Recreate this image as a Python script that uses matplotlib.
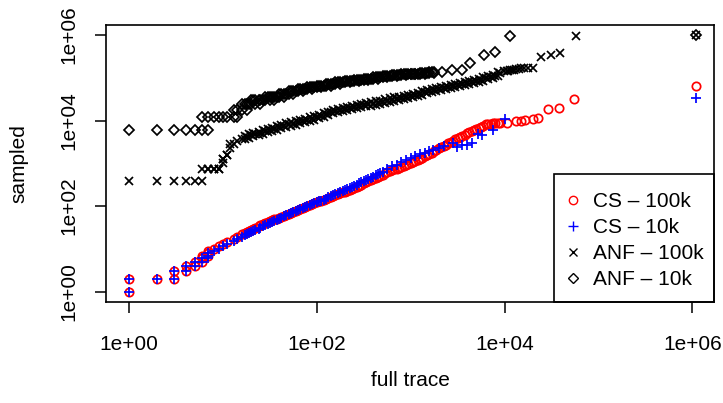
import matplotlib
matplotlib.use('Agg')
import matplotlib.pyplot as plt
from matplotlib.ticker import FixedLocator, NullLocator
from matplotlib.lines import Line2D
from matplotlib.patches import Rectangle

plt.rcParams['font.family'] = ['Liberation Sans', 'DejaVu Sans']

# ---------------- data ----------------
tick_values = [1, 1e2, 1e4, 1e6]
tick_labels = ['1e+00', '1e+02', '1e+04', '1e+06']
series_labels = ['CS \u2013 100k', 'CS \u2013 10k', 'ANF \u2013 100k', 'ANF \u2013 10k']

# shared "full trace" sizes for the dense part of the curves
x_dense = [7, 8, 9, 10, 11, 13, 14, 16, 18, 20, 22, 25, 28, 32, 35, 40, 45, 50, 56, 63,
           71, 79, 89, 100, 112, 126, 141, 158, 178, 200, 224, 251, 282, 316, 355, 398,
           447, 501, 562, 631, 708, 794, 891, 1000, 1120, 1260, 1410, 1580, 1780, 2000,
           2240, 2510, 2820, 3160, 3550, 3980, 4470, 5010, 5620, 6310, 7080, 7940, 8910]
x_mid = [17, 19, 21, 24, 27, 30, 33, 38, 42, 47, 53, 60, 67, 75, 84, 94, 106, 119, 133,
         150, 168, 188, 211, 237, 266, 299, 335, 376, 422, 473, 531, 596, 668, 750, 841,
         944, 1060, 1190, 1330, 1500, 1680, 1880, 2110, 2370, 2660, 2990, 3350, 3760,
         4220, 4730, 5310, 5960, 6680, 7500, 8410]

# CS - 100k
cs100_x_small = [1, 1, 2, 3, 3, 4, 4, 5, 5, 6, 6, 6, 7, 7]
cs100_y_small = [1, 2, 2, 2, 3, 3, 4, 4, 5, 5, 6, 7, 7, 8]
cs100_y_dense = [9.12, 10.2, 11.5, 13.2, 14.8, 17.0, 19.1, 21.9, 24.5, 28.2, 31.6, 36.3,
                 39.8, 44.7, 49.0, 53.7, 58.9, 66.1, 74.1, 81.3, 89.1, 100, 110, 123, 135,
                 151, 166, 182, 200, 219, 240, 269, 302, 339, 380, 427, 490, 550, 617, 692,
                 759, 832, 912, 1020, 1150, 1290, 1450, 1660, 1910, 2240, 2570, 2950, 3390,
                 3890, 4370, 5010, 5750, 6460, 7240, 8130, 8510, 8710, 8910]
cs100_y_mid = [23.2, 26.3, 29.9, 33.9, 38.0, 42.2, 46.8, 51.3, 56.2, 62.4, 70.0, 77.6,
               85.1, 94.4, 105, 116, 129, 143, 158, 174, 191, 209, 229, 254, 285, 320,
               359, 403, 457, 519, 583, 653, 725, 795, 871, 965, 1080, 1220, 1370, 1550,
               1780, 2070, 2400, 2750, 3160, 3630, 4120, 4680, 5370, 6090, 6840, 7670,
               8320, 8610, 8810]
cs100_x_tail = [10700, 13200, 14800, 16600, 20000, 22900, 28800, 38000, 55000, 1.1e6]
cs100_y_tail = [8910, 9550, 9770, 10200, 11000, 11700, 18600, 20000, 31600, 63100]

# CS - 10k
cs10_x_small = [1, 1, 2, 3, 3, 4, 4, 5, 5, 6, 6, 7, 7]
cs10_y_small = [1, 2, 2, 2, 3, 3, 4, 4, 5, 5, 6, 6, 7]
cs10_y_dense = [7.94, 9.12, 10.2, 11.7, 13.2, 15.1, 17.0, 19.5, 21.9, 25.1, 28.2, 31.6,
                35.5, 39.8, 44.7, 51.3, 57.5, 64.6, 72.4, 81.3, 89.1, 100, 110, 123, 135,
                151, 170, 191, 214, 240, 269, 302, 339, 380, 437, 490, 562, 631]
cs10_y_mid = [20.7, 23.4, 26.6, 29.9, 33.5, 37.6, 42.2, 47.9, 54.3, 60.9, 68.4, 76.7,
              85.1, 94.4, 105, 116, 129, 143, 160, 180, 202, 227, 254, 285, 320, 359,
              407, 463, 525, 596]
cs10_x_tail = [562, 631, 708, 794, 891, 1000, 1120, 1260, 1410, 1580, 1740, 2000, 2290,
               2820, 3090, 3550, 3980, 4470, 5250, 5750, 7590, 10000, 1.1e6]
cs10_y_tail = [759, 851, 933, 1050, 1200, 1320, 1480, 1620, 1780, 1950, 2040, 2290, 2570,
               2950, 2450, 2630, 2690, 2950, 4790, 4570, 6030, 11200, 33900]

# ANF - 100k
anf100_x_small = [1, 2, 3, 4, 5, 6, 6, 7, 8, 9, 10, 10, 11, 12, 12]
anf100_y_small = [380, 380, 380, 380, 380, 380, 735, 735, 735, 735, 1000, 1260, 1580,
                  2240, 2820]
anf100_y_dense = [735, 735, 735, 1260, 1580, 2820, 3310, 3800, 4170, 4570, 4900, 5250,
                  5620, 6030, 6460, 7080, 7590, 8130, 8510, 9120, 9770, 10500, 11200,
                  12000, 12900, 14100, 15500, 16600, 17800, 18600, 20000, 20900, 21900,
                  22900, 24000, 25100, 26300, 27500, 29500, 30900, 32400, 33900, 35500,
                  38000, 39800, 42700, 45700, 49000, 51300, 55000, 58900, 61700, 64600,
                  67600, 70800, 74100, 79400, 83200, 89100, 97700, 105000, 112000, 132000]
# upper and lower edge of the band at the in-between sizes
anf100_y_mid = [4360, 4790, 5190, 5560, 5950, 6380, 6840, 7410, 8030, 8610, 9120, 9660,
                10300, 11100, 11900, 12700, 13600, 14800, 16200, 17600, 18800, 19900,
                21100, 22400, 23500, 24500, 25700, 26900, 28200, 29500, 31200, 33100,
                34700, 36300, 38000, 40300, 42600, 45200, 48400, 51800, 54900, 58200,
                62400, 66100, 69200, 72400, 75800, 79400, 84100, 89100, 94400, 102000,
                111000, 119000, 134000]
anf100_y_mid_low = [3630, 3990, 4330, 4630, 4960, 5320, 5700, 6180, 6690, 7180, 7600,
                    8050, 8580, 9250, 9920, 10600, 11300, 12300, 13500, 14700, 15700,
                    16600, 17600, 18700, 19600, 20400, 21400, 22400, 23500, 24600, 26000,
                    27600, 28900, 30300, 31700, 33600, 35500, 37700, 40300, 43200, 45800,
                    48500, 52000, 55100, 57700, 60300, 63200, 66200, 70100, 74300, 78700,
                    85000, 92500, 99200, 112000]
anf100_x_tail = [9770, 10500, 11000, 11500, 12000, 12600, 13200, 14100, 15100, 16200,
                 17800, 20000, 24500, 30900, 38900, 57500, 1.1e6]
anf100_y_tail = [141000, 145000, 148000, 151000, 155000, 155000, 158000, 162000, 166000,
                 170000, 170000, 170000, 302000, 339000, 389000, 933000, 1e6]

# ANF - 10k (estimates come in steps)
anf10_x_small = [1, 2, 3, 4, 5, 6, 7, 6]
anf10_y_small = [6000, 6000, 6000, 6000, 6000, 6000, 6000, 12000]
anf10_y_dense = [12000, 12000, 12000, 12000, 12000, 18000, 18000, 24000, 24000, 30000,
                 30000, 30000, 36000, 36000, 36000, 42000, 42000, 48000, 48000, 54000,
                 54000, 60000, 60000, 66000, 66000, 72000, 72000, 78000, 78000, 84000,
                 84000, 90000, 90000, 96000, 96000, 102000, 102000, 108000, 108000,
                 114000, 114000, 120000, 120000, 126000, 126000, 132000, 132000, 138000,
                 138000]
anf10_y_dense_low = [12000, 12000, 18000, 18000, 24000, 24000, 24000, 30000, 30000, 30000,
                     36000, 36000, 42000, 42000, 48000, 48000, 54000, 54000, 60000, 60000,
                     66000, 66000, 72000, 72000, 78000, 78000, 84000, 84000, 90000, 90000,
                     96000, 96000, 102000, 102000, 108000, 108000, 114000, 114000, 120000,
                     120000, 126000, 126000, 132000, 132000]
anf10_y_mid = [24000, 24000, 30000, 30000, 30000, 36000, 36000, 36000, 42000, 42000,
               48000, 48000, 54000, 54000, 60000, 60000, 66000, 66000, 72000, 72000,
               78000, 78000, 84000, 84000, 90000, 90000, 96000, 96000, 102000, 102000,
               108000, 108000, 114000, 114000, 120000, 120000, 126000, 126000, 132000,
               132000, 138000]
anf10_x_tail = [2140, 2750, 3550, 4270, 6030, 7940, 11500, 1.1e6]
anf10_y_tail = [138000, 150000, 156000, 222000, 348000, 396000, 954000, 1e6]

# ---------------- figure ----------------
W, H = 723, 403
fig = plt.figure(figsize=(W / 100, H / 100), dpi=100)
ax = fig.add_axes([106 / W, 1 - 302 / H, (714 - 106) / W, (302 - 25) / H])
ax.set_xscale('log')
ax.set_yscale('log')

ms_kw = dict(linestyle='none', markeredgewidth=1.25)
red_kw = dict(marker='o', markersize=6, markerfacecolor='none', markeredgecolor='red')
blue_kw = dict(marker='+', markersize=7.5, color='blue')
x_kw = dict(marker='x', markersize=6, color='black')
d_kw = dict(marker='D', markersize=5.5, markerfacecolor='none', markeredgecolor='black')

n_low = len(anf10_y_dense_low)
ax.plot(cs100_x_small + x_dense + x_mid + cs100_x_tail,
        cs100_y_small + cs100_y_dense + cs100_y_mid + cs100_y_tail, **red_kw, **ms_kw)
ax.plot(cs10_x_small + x_dense[:len(cs10_y_dense)] + x_mid[:len(cs10_y_mid)] + cs10_x_tail,
        cs10_y_small + cs10_y_dense + cs10_y_mid + cs10_y_tail, **blue_kw, **ms_kw)
ax.plot(anf100_x_small + x_dense + x_mid + x_mid + anf100_x_tail,
        anf100_y_small + anf100_y_dense + anf100_y_mid + anf100_y_mid_low + anf100_y_tail,
        **x_kw, **ms_kw)
ax.plot(anf10_x_small + x_dense[:len(anf10_y_dense)] + x_dense[5:5 + n_low]
        + x_mid[:len(anf10_y_mid)] + anf10_x_tail,
        anf10_y_small + anf10_y_dense + anf10_y_dense_low + anf10_y_mid + anf10_y_tail,
        **d_kw, **ms_kw)

ax.set_xlim(10 ** -0.245, 10 ** 6.23)
ax.set_ylim(10 ** -0.24, 10 ** 6.235)

for axis in (ax.xaxis, ax.yaxis):
    axis.set_major_locator(FixedLocator(tick_values))
    axis.set_minor_locator(NullLocator())
ax.set_xticklabels(tick_labels)
ax.set_yticklabels(tick_labels)
ax.tick_params(axis='both', which='major', length=8, width=1.1, labelsize=15,
               direction='out', color='black')
ax.tick_params(axis='x', pad=16)
ax.tick_params(axis='y', pad=12)
for lab in ax.get_yticklabels():
    lab.set_rotation(90)
    lab.set_va('center')
for sp in ax.spines.values():
    sp.set_linewidth(1.2)
    sp.set_color('black')

fig.text(410 / W, 1 - 381 / H, 'full trace', ha='center', va='center', fontsize=15)
fig.text(19 / W, 1 - 163.5 / H, 'sampled', ha='center', va='center', rotation=90,
         fontsize=15)

leg_kw = dict(linestyle='none', markeredgewidth=1.0)
handles = [Line2D([], [], **red_kw, **leg_kw), Line2D([], [], **blue_kw, **leg_kw),
           Line2D([], [], **x_kw, **leg_kw), Line2D([], [], **d_kw, **leg_kw)]
leg = ax.legend(handles, series_labels, loc='upper left',
                bbox_to_anchor=(562.6 / W, 1 - 192 / H), bbox_transform=fig.transFigure,
                borderaxespad=0, borderpad=0, frameon=False, fontsize=15,
                handlelength=1.0, handletextpad=0.46, labelspacing=0.34)
fig.patches.append(Rectangle((554 / W, 1 - 302 / H), 160 / W, 128 / H,
                             transform=fig.transFigure, fill=False, edgecolor='black',
                             linewidth=1.2))

fig.savefig('out.png', dpi=100)
